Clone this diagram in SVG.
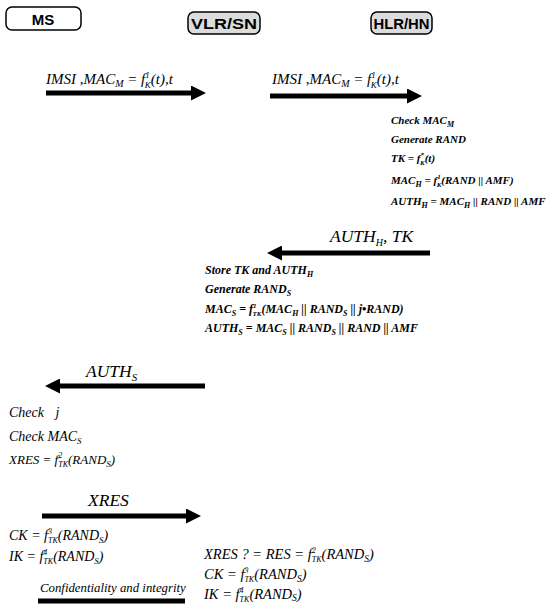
<svg xmlns="http://www.w3.org/2000/svg" width="551" height="604" viewBox="0 0 551 604">
<style>
.hdr{font-family:"Liberation Sans",Arial,sans-serif;font-weight:bold;font-size:15px;text-anchor:middle;fill:#000}
.box{stroke:#000;stroke-width:1.5}
.m{font-family:"Liberation Serif","Times New Roman","DejaVu Serif",serif;font-style:italic;fill:#000}
.lbl{font-size:15px}
.big{font-size:17.5px}
.blk{font-size:11px;font-weight:bold}
.blk2{font-size:12px;font-weight:bold}
.ms{font-size:14px}
.br{font-size:14.5px}
.arr{stroke:#000;stroke-width:5;fill:none}
</style>
<defs>
<marker id="ah" markerUnits="userSpaceOnUse" markerWidth="15" markerHeight="15" viewBox="0 0 15 15" refX="4" refY="7.5" orient="auto">
<path d="M0,0 L15,7.5 L0,15 z" fill="#000"/>
</marker>
</defs>
<rect width="551" height="604" fill="#fff"/>

<g id="ms">
<rect class="box" x="6" y="7" width="75" height="23" rx="6" fill="#fff"/>
<text class="hdr" x="43" y="24.5" font-size="16">MS</text>
</g>
<g id="vlr">
<rect class="box" x="188" y="12" width="72" height="22" rx="6" fill="#dcdcdc"/>
<text class="hdr" x="224" y="28.5" textLength="66" lengthAdjust="spacingAndGlyphs">VLR/SN</text>
</g>
<g id="hlr">
<rect class="box" x="371" y="12" width="61" height="22" rx="6" fill="#dcdcdc"/>
<text class="hdr" x="401.5" y="28.5" textLength="56" lengthAdjust="spacingAndGlyphs">HLR/HN</text>
</g>

<g id="connectors">
<line class="arr" x1="46" y1="93" x2="195" y2="93" marker-end="url(#ah)"/>
<line class="arr" x1="270" y1="96" x2="411" y2="96" marker-end="url(#ah)"/>
<line class="arr" x1="430" y1="253" x2="278" y2="253" marker-end="url(#ah)"/>
<line class="arr" x1="205" y1="386" x2="56" y2="386" marker-end="url(#ah)"/>
<line class="arr" x1="42" y1="516" x2="190" y2="516" marker-end="url(#ah)"/>
<line class="arr" x1="38" y1="601" x2="185" y2="601"/>
</g>

<g id="labels">
<text class="m lbl" x="46" y="84">IMSI ,MAC<tspan font-size="10" dy="3">M</tspan><tspan dy="-3"> = f</tspan><tspan font-size="9" dy="-6">1</tspan><tspan font-size="9" dx="-5" dy="10">K</tspan><tspan dy="-4">(t),t</tspan></text>
<text class="m lbl" x="272" y="84">IMSI ,MAC<tspan font-size="10" dy="3">M</tspan><tspan dy="-3"> = f</tspan><tspan font-size="9" dy="-6">1</tspan><tspan font-size="9" dx="-5" dy="10">K</tspan><tspan dy="-4">(t),t</tspan></text>
<text class="m big" x="330" y="242">AUTH<tspan font-size="10" dy="4">H</tspan><tspan dy="-4">, TK</tspan></text>
<text class="m big" x="86" y="377">AUTH<tspan font-size="11" dy="4">S</tspan></text>
<text class="m big" x="88" y="506">XRES</text>
<text class="m" x="40" y="592" font-size="12.8">Confidentiality and integrity</text>
</g>

<g id="hlr-block" class="m blk">
<text x="391" y="124">Check MAC<tspan font-size="8" dy="3">M</tspan></text>
<text x="391" y="143">Generate RAND</text>
<text x="391" y="162">TK = f<tspan font-size="7" dy="-5">*</tspan><tspan font-size="7" dx="-4" dy="8">K</tspan><tspan dy="-3">(t)</tspan></text>
<text x="391" y="184">MAC<tspan font-size="8" dy="3">H</tspan><tspan dy="-3"> = f</tspan><tspan font-size="7" dy="-5">1</tspan><tspan font-size="7" dx="-4" dy="8">K</tspan><tspan dy="-3">(RAND || AMF)</tspan></text>
<text x="391" y="205">AUTH<tspan font-size="8" dy="3">H</tspan><tspan dy="-3"> = MAC</tspan><tspan font-size="8" dy="3">H</tspan><tspan dy="-3"> || RAND || AMF</tspan></text>
</g>

<g id="vlr-block" class="m blk2">
<text x="205" y="274">Store TK and AUTH<tspan font-size="8" dy="3">H</tspan></text>
<text x="205" y="293">Generate RAND<tspan font-size="8" dy="3">S</tspan></text>
<text x="205" y="313">MAC<tspan font-size="8" dy="3">S</tspan><tspan dy="-3"> = f</tspan><tspan font-size="7" dy="-5">1</tspan><tspan font-size="7" dx="-4" dy="8">TK</tspan><tspan dy="-3">(MAC</tspan><tspan font-size="8" dy="3">H</tspan><tspan dy="-3"> || RAND</tspan><tspan font-size="8" dy="3">S</tspan><tspan dy="-3"> || j•RAND)</tspan></text>
<text x="205" y="332">AUTH<tspan font-size="8" dy="3">S</tspan><tspan dy="-3"> = MAC</tspan><tspan font-size="8" dy="3">S</tspan><tspan dy="-3"> || RAND</tspan><tspan font-size="8" dy="3">S</tspan><tspan dy="-3"> || RAND || AMF</tspan></text>
</g>

<g id="ms-block" class="m ms">
<text x="9" y="417">Check <tspan dx="8">j</tspan></text>
<text x="9" y="441">Check MAC<tspan font-size="9" dy="3">S</tspan></text>
<text x="9" y="464" font-size="13">XRES = f<tspan font-size="8" dy="-6">2</tspan><tspan font-size="8" dx="-4" dy="9">TK</tspan><tspan dy="-3">(RAND</tspan><tspan font-size="9" dy="3">S</tspan><tspan dy="-3">)</tspan></text>
<text x="9" y="540">CK = f<tspan font-size="8" dy="-6">3</tspan><tspan font-size="8" dx="-4" dy="9">TK</tspan><tspan dy="-3">(RAND</tspan><tspan font-size="9" dy="3">S</tspan><tspan dy="-3">)</tspan></text>
<text x="9" y="561">IK = f<tspan font-size="8" dy="-6">4</tspan><tspan font-size="8" dx="-4" dy="9">TK</tspan><tspan dy="-3">(RAND</tspan><tspan font-size="9" dy="3">S</tspan><tspan dy="-3">)</tspan></text>
</g>

<g id="vlr-final" class="m br">
<text x="204" y="559">XRES ? = RES = f<tspan font-size="8" dy="-6">2</tspan><tspan font-size="8" dx="-4" dy="9">TK</tspan><tspan dy="-3">(RAND</tspan><tspan font-size="9.5" dy="3">S</tspan><tspan dy="-3">)</tspan></text>
<text x="204" y="579">CK = f<tspan font-size="8" dy="-6">3</tspan><tspan font-size="8" dx="-4" dy="9">TK</tspan><tspan dy="-3">(RAND</tspan><tspan font-size="9.5" dy="3">S</tspan><tspan dy="-3">)</tspan></text>
<text x="204" y="599">IK = f<tspan font-size="8" dy="-6">4</tspan><tspan font-size="8" dx="-4" dy="9">TK</tspan><tspan dy="-3">(RAND</tspan><tspan font-size="9.5" dy="2">S</tspan><tspan dy="-2">)</tspan></text>
</g>
</svg>
